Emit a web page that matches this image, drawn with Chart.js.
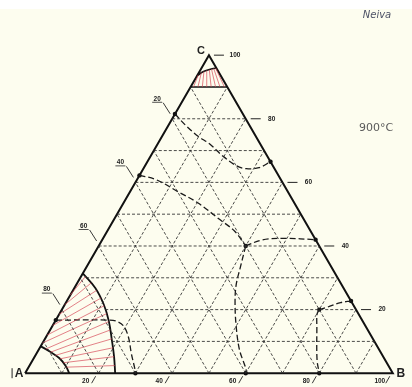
<!DOCTYPE html>
<html>
<head>
<meta charset="utf-8">
<script src="https://cdn.jsdelivr.net/npm/chart.js@4.4.1/dist/chart.umd.min.js"></script>
<style>
  html, body { margin: 0; padding: 0; background: #fdfdef; }
  #wrap { position: relative; width: 412px; height: 387px;
          background: linear-gradient(#ffffff 0, #ffffff 9px, #fdfdef 9px); }
</style>
</head>
<body>
<div id="wrap"><canvas id="ternary"></canvas></div>
<script>
// every point is [B %, C %]; A % is whatever is left
var gridTicks = [10, 20, 30, 40, 50, 60, 70, 80, 90];
var baseTicks = [20, 40, 60, 80, 100];   // B, along the bottom
var rightTicks = [100, 80, 60, 40, 20];  // C, on the right edge
var leftTicks = [20, 40, 60, 80];        // A, on the left edge
// horizontal grid rows stop at the outer arc near A
var rowStart = { 10: 18.6, 20: 11.8, 30: 1.6 };

// C-rich corner
var capLine = [[0, 90], [10, 90]];
var capArc = [[0, 93.5], [1.0, 94.8], [2.2, 95.4], [3.3, 95.8], [4.1, 95.9]];
var capTieBottom = [[0.8, 90], [2, 90], [3.2, 90], [4.4, 90], [5.6, 90], [6.8, 90], [8, 90], [9.2, 90]];
var capTieTop = [[0.2, 93.8], [0.7, 94.5], [1.2, 94.9], [1.8, 95.2], [2.4, 95.4], [2.9, 95.6], [3.4, 95.8], [3.9, 95.9]];

// dashed phase boundaries
var upperCurve = [[0, 81.5], [5.3, 77.5], [9.8, 74.5], [14.3, 72], [19.6, 68.3], [24.9, 65.2], [28, 64.3], [31.3, 64.6], [33.5, 66.5]];
var middleCurve = [[0, 62.2], [5.1, 60.9], [13.2, 57], [20.3, 53.5], [28.8, 48.3], [34.6, 44.7], [40, 40]];
var middleRight = [[40, 40], [43.5, 41.9], [49.5, 42.4], [58, 42]];
var middleDown = [[40, 40], [40.5, 38.2], [42, 32.9], [43.5, 27.8], [45.7, 22.8], [49.6, 15.5], [54.6, 7.4], [59.5, 1.2], [60, 0]];
var lowerRight = [[70, 20], [71.9, 20.8], [74.7, 22.2], [77.3, 22.7]];
var lowerDown = [[70, 20], [70.1, 18.6], [72.1, 14.5], [77.3, 4.2], [80, 0]];
var cornerDashed = [[0, 16.7], [14.4, 16.7], [16.8, 16.3], [19.4, 14.8], [22.4, 11.4], [25.8, 6.2], [29.7, 0.6], [30, 0]];

// A-rich corner
var cornerInner = [[0, 8.5], [3.3, 6.8], [7, 4.7], [10, 2.2], [12, 0]];
var cornerOuter = [[0, 31.4], [5.7, 26.8], [10.6, 21.6], [14.5, 16.5], [18.4, 10.4], [21.6, 5.2], [24.5, 0]];
var tieStart = [[0, 24.5], [0, 21.5], [0, 18.5], [0, 15], [0, 12], [0, 9.5], [1.8, 7.6], [3.6, 6.6], [5.4, 5.6], [7.2, 4.5], [8.8, 3.3], [10.3, 1.9]];
var tieEnd = [[1.2, 30.4], [3.8, 28.4], [6.4, 26], [8.8, 23.6], [10.9, 21.2], [12.8, 18.7], [14.6, 16.2], [16.4, 13.6], [18.2, 10.8], [19.9, 8], [21.6, 5.2], [23.2, 2.4]];

var junctions = [[0, 81.5], [33.5, 66.5], [0, 62.2], [40, 40], [58, 42], [70, 20], [77.3, 22.7], [0, 16.7], [30, 0], [60, 0], [80, 0]];

var H = Math.sqrt(3) / 2;
function toXY(p) { return { x: p[0] + p[1] / 2, y: p[1] * H }; }

function line(points, color, width, dash, tension) {
  return {
    data: points.map(toXY), showLine: true, borderColor: color, borderWidth: width,
    borderDash: dash || [], pointRadius: 0, fill: false, tension: tension || 0
  };
}

var datasets = [];
var gridColor = 'rgba(45,45,45,0.85)';
gridTicks.forEach(function (t) {
  if (t !== 90) datasets.push(line([[rowStart[t] || 0, t], [100 - t, t]], gridColor, 1, [3, 2]));
  datasets.push(line([[t, 0], [t, 100 - t]], gridColor, 1, [3, 2]));
  datasets.push(line([[100 - t, 0], [0, 100 - t]], gridColor, 1, [3, 2]));
});

var red = 'rgba(214,70,85,0.85)';
capTieBottom.forEach(function (p, i) { datasets.push(line([p, capTieTop[i]], red, 0.8)); });
tieStart.forEach(function (p, i) { datasets.push(line([p, tieEnd[i]], red, 0.8)); });

datasets.push(line(capLine, '#111', 1.6));
datasets.push(line(capArc, '#111', 1.6, null, 0.4));
datasets.push(line(cornerInner, '#111', 1.8, null, 0.4));
datasets.push(line(cornerOuter, '#111', 1.8, null, 0.4));

var dash = [6, 3];
[upperCurve, middleCurve, middleRight, middleDown, lowerRight, lowerDown, cornerDashed].forEach(function (c) {
  datasets.push(line(c, '#1a1a1a', 1.3, dash, 0.35));
});

// triangle outline
datasets.push(line([[0, 0], [100, 0], [0, 100], [0, 0]], '#111', 2));

datasets.push({
  data: junctions.map(toXY), showLine: false, pointRadius: 2.2,
  pointBackgroundColor: '#111', pointBorderWidth: 0
});

var labelsPlugin = {
  id: 'ternaryLabels',
  afterDatasetsDraw: function (chart) {
    var ctx = chart.ctx, sx = chart.scales.x, sy = chart.scales.y;
    function px(p) { var q = toXY(p); return { x: sx.getPixelForValue(q.x), y: sy.getPixelForValue(q.y) }; }
    function seg(x1, y1, x2, y2, w) {
      ctx.beginPath(); ctx.lineWidth = w || 0.9; ctx.moveTo(x1, y1); ctx.lineTo(x2, y2); ctx.stroke();
    }
    ctx.save();
    ctx.fillStyle = '#222'; ctx.strokeStyle = '#222';
    ctx.textAlign = 'center'; ctx.textBaseline = 'middle';
    ctx.font = 'bold 6.5px "Liberation Sans"';

    rightTicks.forEach(function (c) {
      var p = px([100 - c, c]);
      seg(p.x + 5, p.y, p.x + 15, p.y, 1);
      ctx.fillText(String(c), p.x + 26, p.y);
    });
    leftTicks.forEach(function (a) {
      var p = px([0, 100 - a]);
      ctx.fillText(String(a), p.x - 15, p.y - 20);
      seg(p.x - 20, p.y - 16.5, p.x - 10, p.y - 16.5, 0.8);
      seg(p.x - 9, p.y - 16, p.x - 2, p.y - 5, 0.9);
    });
    baseTicks.forEach(function (b) {
      var p = px([b, 0]);
      ctx.fillText(String(b), p.x - 13, p.y + 8);
      seg(p.x - 7, p.y + 10, p.x - 3, p.y + 3, 0.9);
    });

    var A = px([0, 0]), B = px([100, 0]), C = px([0, 100]);
    ctx.font = 'bold 11px "Liberation Sans"';
    ctx.fillText('C', C.x - 8, C.y - 4);
    ctx.font = 'bold 12px "Liberation Sans"';
    ctx.fillText('A', A.x - 6, A.y);
    ctx.fillText('B', B.x + 8, B.y);
    seg(A.x - 13, A.y - 5, A.x - 13, A.y + 5, 1);

    ctx.fillStyle = '#4d5266';
    ctx.font = 'italic 10px "DejaVu Sans"';
    ctx.fillText('Neiva', 377, 15);
    ctx.fillStyle = '#5a5a5a';
    ctx.font = '11px "DejaVu Sans"';
    ctx.fillText('900°C', 376, 128);
    ctx.restore();
  }
};

new Chart(document.getElementById('ternary'), {
  type: 'scatter',
  data: { datasets: datasets },
  options: {
    responsive: true, maintainAspectRatio: false, animation: false,
    layout: { padding: 0 },
    plugins: { legend: { display: false }, tooltip: { enabled: false } },
    scales: {
      x: { type: 'linear', min: -5.7333, max: 104.1333, display: false },
      y: { type: 'linear', min: -2.6667, max: 100.5333, display: false }
    }
  },
  plugins: [labelsPlugin]
});
</script>
</body>
</html>
